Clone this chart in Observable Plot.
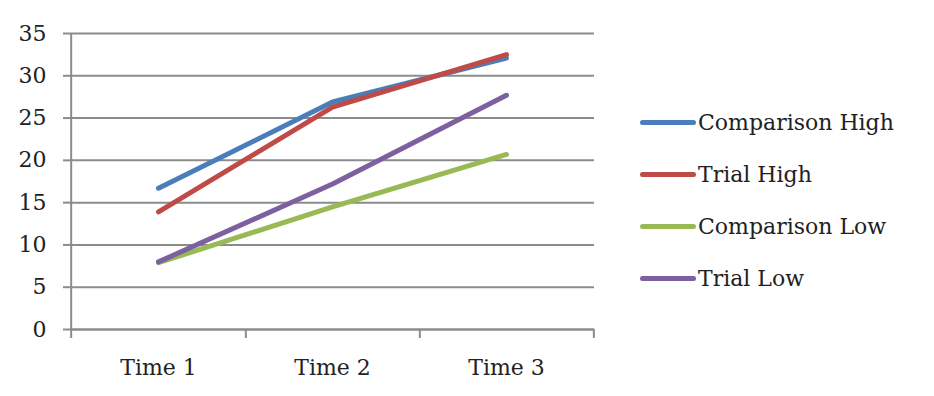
<!DOCTYPE html>
<html>
<head>
<meta charset="utf-8">
<script src="https://cdn.jsdelivr.net/npm/d3@7"></script>
<script src="https://cdn.jsdelivr.net/npm/@observablehq/plot@0.6"></script>
<style>
  body { margin: 0; background: #fff; }
  #wrap { position: relative; width: 934px; height: 396px; }
  #legend { position: absolute; left: 640px; top: 96px; font-family: "DejaVu Serif", serif; font-size: 22px; color: #222; }
  .item { display: flex; align-items: center; height: 52px; }
  .sw { width: 56px; height: 5px; border-radius: 3px; margin-right: 2px; }
</style>
</head>
<body>
<div id="wrap"></div>
<script>
const categories = ["Time 1", "Time 2", "Time 3"];
const seriesNames = ["Comparison High", "Trial High", "Comparison Low", "Trial Low"];
const comparisonHigh = [16.7, 26.9, 32.1];
const trialHigh = [13.9, 26.3, 32.5];
const comparisonLow = [7.9, 14.5, 20.7];
const trialLow = [8.0, 17.2, 27.7];
const colors = ["#4a7ebb", "#be4b48", "#98b954", "#7d60a0"];
const yTicks = [0, 5, 10, 15, 20, 25, 30, 35];

const seriesValues = [comparisonHigh, trialHigh, comparisonLow, trialLow];
const data = seriesNames.flatMap((s, k) => categories.map((c, i) => ({series: s, time: c, value: seriesValues[k][i]})));

const W = 934, H = 396, mL = 70, mR = 340, mT = 33, mB = 67;
const half = (W - mL - mR) / categories.length / 2;
const gray = "#8c8c8c";
const font = "DejaVu Serif, serif";

const chart = Plot.plot({
  width: W, height: H,
  marginLeft: mL, marginRight: mR, marginTop: mT, marginBottom: mB,
  style: {fontFamily: font, fontSize: "22px", color: "#222", background: "#fff"},
  x: {type: "point", domain: categories, padding: 0.5, label: null},
  y: {domain: [0, 35], label: null},
  color: {domain: seriesNames, range: colors},
  marks: [
    Plot.gridY(yTicks, {stroke: gray, strokeOpacity: 1, strokeWidth: 2}),
    Plot.axisY(yTicks, {tickSize: 7, tickPadding: 17, stroke: gray, strokeWidth: 2, fill: "#222", fontSize: 22}),
    Plot.axisX({tickSize: 0, tickPadding: 30, fill: "#222", fontSize: 22}),
    Plot.ruleY([0], {stroke: gray, strokeWidth: 2}),
    Plot.ruleX([categories[0]], {dx: -half, insetBottom: -9, stroke: gray, strokeWidth: 2}),
    Plot.ruleX(categories, {x: d => d, y1: 0, y2: 0, dx: half, insetBottom: -9, stroke: gray, strokeWidth: 2}),
    Plot.line(data, {x: "time", y: "value", z: "series", stroke: "series", strokeWidth: 5, strokeLinecap: "round", strokeLinejoin: "round"})
  ]
});

const wrap = document.getElementById("wrap");
wrap.appendChild(chart);

const legend = document.createElement("div");
legend.id = "legend";
seriesNames.forEach((s, k) => {
  const it = document.createElement("div");
  it.className = "item";
  const sw = document.createElement("div");
  sw.className = "sw";
  sw.style.background = colors[k];
  const t = document.createElement("span");
  t.textContent = s;
  it.appendChild(sw); it.appendChild(t);
  legend.appendChild(it);
});
wrap.appendChild(legend);
</script>
</body>
</html>
